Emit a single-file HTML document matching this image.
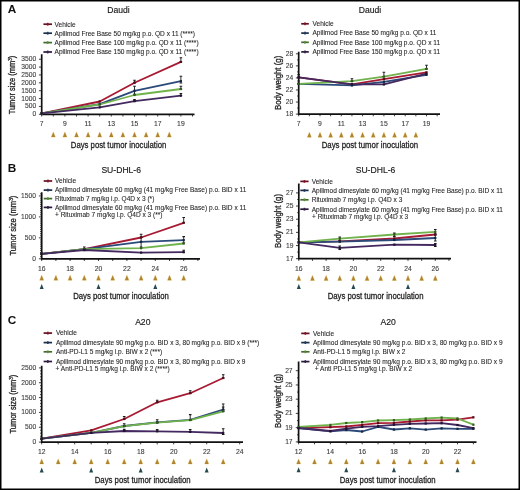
<!DOCTYPE html>
<html><head><meta charset="utf-8"><style>
html,body{margin:0;padding:0;background:#fff;}
svg{display:block;font-family:"Liberation Sans", sans-serif;will-change:transform;}
</style></head><body>
<svg width="520" height="490" viewBox="0 0 520 490">
<rect x="0" y="0" width="520" height="490" fill="#fff"/>
<text x="7.8" y="12.6" font-size="11.8" font-weight="bold" fill="#111">A</text>
<text x="7.8" y="172.1" font-size="11.8" font-weight="bold" fill="#111">B</text>
<text x="7.8" y="324.2" font-size="11.8" font-weight="bold" fill="#111">C</text>
<path d="M41.7 54.2V114.3H194.5" fill="none" stroke="#111" stroke-width="1.7"/>
<text x="36.2" y="116.3" font-size="6.7" text-anchor="end" fill="#3a3a3a" stroke="#3a3a3a" stroke-width="0.1">0</text>
<text x="36.2" y="108.43" font-size="6.7" text-anchor="end" fill="#3a3a3a" stroke="#3a3a3a" stroke-width="0.1">500</text>
<text x="36.2" y="100.56" font-size="6.7" text-anchor="end" fill="#3a3a3a" stroke="#3a3a3a" stroke-width="0.1">1000</text>
<text x="36.2" y="92.69" font-size="6.7" text-anchor="end" fill="#3a3a3a" stroke="#3a3a3a" stroke-width="0.1">1500</text>
<text x="36.2" y="84.82" font-size="6.7" text-anchor="end" fill="#3a3a3a" stroke="#3a3a3a" stroke-width="0.1">2000</text>
<text x="36.2" y="76.95" font-size="6.7" text-anchor="end" fill="#3a3a3a" stroke="#3a3a3a" stroke-width="0.1">2500</text>
<text x="36.2" y="69.08" font-size="6.7" text-anchor="end" fill="#3a3a3a" stroke="#3a3a3a" stroke-width="0.1">3000</text>
<text x="36.2" y="61.21" font-size="6.7" text-anchor="end" fill="#3a3a3a" stroke="#3a3a3a" stroke-width="0.1">3500</text>
<path d="M41.7 114.3h-2.8M41.7 106.43h-2.8M41.7 98.56h-2.8M41.7 90.69h-2.8M41.7 82.82h-2.8M41.7 74.95h-2.8M41.7 67.08h-2.8M41.7 59.21h-2.8M41.7 114.3v2.2M53.3 114.3v2.2M64.9 114.3v2.2M76.5 114.3v2.2M88.1 114.3v2.2M99.7 114.3v2.2M111.3 114.3v2.2M122.9 114.3v2.2M134.5 114.3v2.2M146.1 114.3v2.2M157.7 114.3v2.2M169.3 114.3v2.2M180.9 114.3v2.2M192.5 114.3v2.2" stroke="#111" stroke-width="0.8" fill="none"/>
<text x="41.7" y="126.1" font-size="6.8" text-anchor="middle" fill="#3a3a3a" stroke="#3a3a3a" stroke-width="0.1">7</text>
<text x="64.9" y="126.1" font-size="6.8" text-anchor="middle" fill="#3a3a3a" stroke="#3a3a3a" stroke-width="0.1">9</text>
<text x="88.1" y="126.1" font-size="6.8" text-anchor="middle" fill="#3a3a3a" stroke="#3a3a3a" stroke-width="0.1">11</text>
<text x="111.3" y="126.1" font-size="6.8" text-anchor="middle" fill="#3a3a3a" stroke="#3a3a3a" stroke-width="0.1">13</text>
<text x="134.5" y="126.1" font-size="6.8" text-anchor="middle" fill="#3a3a3a" stroke="#3a3a3a" stroke-width="0.1">15</text>
<text x="157.7" y="126.1" font-size="6.8" text-anchor="middle" fill="#3a3a3a" stroke="#3a3a3a" stroke-width="0.1">17</text>
<text x="180.9" y="126.1" font-size="6.8" text-anchor="middle" fill="#3a3a3a" stroke="#3a3a3a" stroke-width="0.1">19</text>
<polyline points="41.7,113.3 99.7,101.5 134.5,82.7 180.9,61.9" fill="none" stroke="#A81A32" stroke-width="1.8" stroke-linejoin="round"/>
<polyline points="41.7,113.3 99.7,104.2 134.5,90.8 180.9,81.2" fill="none" stroke="#2B4A7A" stroke-width="1.8" stroke-linejoin="round"/>
<polyline points="41.7,113.3 99.7,104.5 134.5,95 180.9,89" fill="none" stroke="#70B24C" stroke-width="1.8" stroke-linejoin="round"/>
<polyline points="41.7,113.3 99.7,107.3 134.5,101.2 180.9,95.6" fill="none" stroke="#43295F" stroke-width="1.8" stroke-linejoin="round"/>
<path d="M134.5 80.3V82.7M180.9 57.8V61.9M134.5 86.3V94.2M180.9 76.3V83M180.9 86.3V89M134.5 99.6V101.2M180.9 93.5V95.6" stroke="#1a1a1a" stroke-width="0.9" fill="none"/>
<path d="M133.2 80.3h2.6M133.2 82.7h2.6M179.6 57.8h2.6M179.6 61.9h2.6M133.2 86.3h2.6M133.2 94.2h2.6M179.6 76.3h2.6M179.6 83h2.6M179.6 86.3h2.6M179.6 89h2.6M133.2 99.6h2.6M133.2 101.2h2.6M179.6 93.5h2.6M179.6 95.6h2.6" stroke="#1a1a1a" stroke-width="1.1" fill="none"/>
<rect x="40.6" y="112.2" width="2.2" height="2.2" fill="#540d19"/>
<rect x="98.6" y="100.4" width="2.2" height="2.2" fill="#540d19"/>
<rect x="133.4" y="81.6" width="2.2" height="2.2" fill="#540d19"/>
<rect x="179.8" y="60.8" width="2.2" height="2.2" fill="#540d19"/>
<rect x="40.6" y="112.2" width="2.2" height="2.2" fill="#15253d"/>
<rect x="98.6" y="103.1" width="2.2" height="2.2" fill="#15253d"/>
<rect x="133.4" y="89.7" width="2.2" height="2.2" fill="#15253d"/>
<rect x="179.8" y="80.1" width="2.2" height="2.2" fill="#15253d"/>
<rect x="40.6" y="112.2" width="2.2" height="2.2" fill="#385926"/>
<rect x="98.6" y="103.4" width="2.2" height="2.2" fill="#385926"/>
<rect x="133.4" y="93.9" width="2.2" height="2.2" fill="#385926"/>
<rect x="179.8" y="87.9" width="2.2" height="2.2" fill="#385926"/>
<rect x="40.6" y="112.2" width="2.2" height="2.2" fill="#21142f"/>
<rect x="98.6" y="106.2" width="2.2" height="2.2" fill="#21142f"/>
<rect x="133.4" y="100.1" width="2.2" height="2.2" fill="#21142f"/>
<rect x="179.8" y="94.5" width="2.2" height="2.2" fill="#21142f"/>
<path d="M43.4 24.2H52" stroke="#640f1e" stroke-width="1.7"/>
<rect x="46.9" y="22.8" width="1.6" height="2.8" fill="#861428"/>
<text x="54.6" y="26.5" font-size="6.56" fill="#262626" stroke="#262626" stroke-width="0.08">Vehicle</text>
<path d="M43.4 33.2H52" stroke="#192c49" stroke-width="1.7"/>
<rect x="46.9" y="31.8" width="1.6" height="2.8" fill="#223b61"/>
<text x="54.6" y="35.5" font-size="6.56" fill="#262626" stroke="#262626" stroke-width="0.08">Apilimod Free Base 50 mg/kg p.o. QD x 11 (****)</text>
<path d="M43.4 42.6H52" stroke="#436a2d" stroke-width="1.7"/>
<rect x="46.9" y="41.2" width="1.6" height="2.8" fill="#598e3c"/>
<text x="54.6" y="44.9" font-size="6.56" fill="#262626" stroke="#262626" stroke-width="0.08">Apilimod Free Base 100 mg/kg p.o. QD x 11 (****)</text>
<path d="M43.4 52H52" stroke="#281839" stroke-width="1.7"/>
<rect x="46.9" y="50.6" width="1.6" height="2.8" fill="#35204c"/>
<text x="54.6" y="54.3" font-size="6.56" fill="#262626" stroke="#262626" stroke-width="0.08">Apilimod Free Base 150 mg/kg p.o. QD x 11 (****)</text>
<text x="118.5" y="13.1" font-size="8.6" text-anchor="middle" fill="#1a1a1a" stroke="#1a1a1a" stroke-width="0.15">Daudi</text>
<g transform="translate(15.4 85) rotate(-90)">
<text x="0" y="0" font-size="8.9" text-anchor="middle" textLength="58.6" lengthAdjust="spacingAndGlyphs" fill="#222" stroke="#222" stroke-width="0.3">Tumor size (mm<tspan font-size="5.5" dy="-3">3</tspan><tspan dy="3">)</tspan></text>
</g>
<text x="70.8" y="147.6" font-size="9.2" textLength="95.5" lengthAdjust="spacingAndGlyphs" fill="#222" stroke="#222" stroke-width="0.28">Days post tumor inoculation</text>
<path d="M51.3 137.1L53.3 132.1L55.3 137.1ZM62.9 137.1L64.9 132.1L66.9 137.1ZM74.5 137.1L76.5 132.1L78.5 137.1ZM86.1 137.1L88.1 132.1L90.1 137.1ZM97.7 137.1L99.7 132.1L101.7 137.1ZM109.3 137.1L111.3 132.1L113.3 137.1ZM120.9 137.1L122.9 132.1L124.9 137.1ZM132.5 137.1L134.5 132.1L136.5 137.1ZM144.1 137.1L146.1 132.1L148.1 137.1ZM155.7 137.1L157.7 132.1L159.7 137.1ZM167.3 137.1L169.3 132.1L171.3 137.1Z" fill="#AE8432" stroke="#F4DD9C" stroke-width="0.9" paint-order="stroke" stroke-linejoin="round"/>
<path d="M298.7 51.7V114.1H440" fill="none" stroke="#111" stroke-width="1.7"/>
<text x="293.2" y="116.1" font-size="6.7" text-anchor="end" fill="#3a3a3a" stroke="#3a3a3a" stroke-width="0.1">18</text>
<text x="293.2" y="104.04" font-size="6.7" text-anchor="end" fill="#3a3a3a" stroke="#3a3a3a" stroke-width="0.1">20</text>
<text x="293.2" y="91.98" font-size="6.7" text-anchor="end" fill="#3a3a3a" stroke="#3a3a3a" stroke-width="0.1">22</text>
<text x="293.2" y="79.92" font-size="6.7" text-anchor="end" fill="#3a3a3a" stroke="#3a3a3a" stroke-width="0.1">24</text>
<text x="293.2" y="67.86" font-size="6.7" text-anchor="end" fill="#3a3a3a" stroke="#3a3a3a" stroke-width="0.1">26</text>
<text x="293.2" y="55.8" font-size="6.7" text-anchor="end" fill="#3a3a3a" stroke="#3a3a3a" stroke-width="0.1">28</text>
<path d="M298.7 114.1h-2.8M298.7 102.04h-2.8M298.7 89.98h-2.8M298.7 77.92h-2.8M298.7 65.86h-2.8M298.7 53.8h-2.8M298.7 108.07h-1.6M298.7 96.01h-1.6M298.7 83.95h-1.6M298.7 71.89h-1.6M298.7 59.83h-1.6M298.7 114.1v2.2M309.35 114.1v2.2M320 114.1v2.2M330.65 114.1v2.2M341.3 114.1v2.2M351.95 114.1v2.2M362.6 114.1v2.2M373.25 114.1v2.2M383.9 114.1v2.2M394.55 114.1v2.2M405.2 114.1v2.2M415.85 114.1v2.2M426.5 114.1v2.2M437.15 114.1v2.2" stroke="#111" stroke-width="0.8" fill="none"/>
<text x="298.7" y="126.1" font-size="6.8" text-anchor="middle" fill="#3a3a3a" stroke="#3a3a3a" stroke-width="0.1">7</text>
<text x="320" y="126.1" font-size="6.8" text-anchor="middle" fill="#3a3a3a" stroke="#3a3a3a" stroke-width="0.1">9</text>
<text x="341.3" y="126.1" font-size="6.8" text-anchor="middle" fill="#3a3a3a" stroke="#3a3a3a" stroke-width="0.1">11</text>
<text x="362.6" y="126.1" font-size="6.8" text-anchor="middle" fill="#3a3a3a" stroke="#3a3a3a" stroke-width="0.1">13</text>
<text x="383.9" y="126.1" font-size="6.8" text-anchor="middle" fill="#3a3a3a" stroke="#3a3a3a" stroke-width="0.1">15</text>
<text x="405.2" y="126.1" font-size="6.8" text-anchor="middle" fill="#3a3a3a" stroke="#3a3a3a" stroke-width="0.1">17</text>
<text x="426.5" y="126.1" font-size="6.8" text-anchor="middle" fill="#3a3a3a" stroke="#3a3a3a" stroke-width="0.1">19</text>
<polyline points="298.7,77.4 351.95,84.3 383.9,79.2 426.5,72.3" fill="none" stroke="#A81A32" stroke-width="1.8" stroke-linejoin="round"/>
<polyline points="298.7,83.8 351.95,85.4 383.9,81.8 426.5,74.9" fill="none" stroke="#2B4A7A" stroke-width="1.8" stroke-linejoin="round"/>
<polyline points="298.7,83.8 351.95,81.2 383.9,76.6 426.5,68.9" fill="none" stroke="#70B24C" stroke-width="1.8" stroke-linejoin="round"/>
<polyline points="298.7,77.4 351.95,84.3 383.9,84.4 426.5,73.7" fill="none" stroke="#43295F" stroke-width="1.8" stroke-linejoin="round"/>
<path d="M351.95 78.7V81.2M383.9 72.3V76.6M426.5 65.2V68.9M298.7 81V83.8M298.7 74.6V77.4" stroke="#1a1a1a" stroke-width="0.9" fill="none"/>
<path d="M350.65 78.7h2.6M350.65 81.2h2.6M382.6 72.3h2.6M382.6 76.6h2.6M425.2 65.2h2.6M425.2 68.9h2.6M297.4 81h2.6M297.4 83.8h2.6M297.4 74.6h2.6M297.4 77.4h2.6" stroke="#1a1a1a" stroke-width="1.1" fill="none"/>
<rect x="297.6" y="76.3" width="2.2" height="2.2" fill="#540d19"/>
<rect x="350.85" y="83.2" width="2.2" height="2.2" fill="#540d19"/>
<rect x="382.8" y="78.1" width="2.2" height="2.2" fill="#540d19"/>
<rect x="425.4" y="71.2" width="2.2" height="2.2" fill="#540d19"/>
<rect x="297.6" y="82.7" width="2.2" height="2.2" fill="#15253d"/>
<rect x="350.85" y="84.3" width="2.2" height="2.2" fill="#15253d"/>
<rect x="382.8" y="80.7" width="2.2" height="2.2" fill="#15253d"/>
<rect x="425.4" y="73.8" width="2.2" height="2.2" fill="#15253d"/>
<rect x="297.6" y="82.7" width="2.2" height="2.2" fill="#385926"/>
<rect x="350.85" y="80.1" width="2.2" height="2.2" fill="#385926"/>
<rect x="382.8" y="75.5" width="2.2" height="2.2" fill="#385926"/>
<rect x="425.4" y="67.8" width="2.2" height="2.2" fill="#385926"/>
<rect x="297.6" y="76.3" width="2.2" height="2.2" fill="#21142f"/>
<rect x="350.85" y="83.2" width="2.2" height="2.2" fill="#21142f"/>
<rect x="382.8" y="83.3" width="2.2" height="2.2" fill="#21142f"/>
<rect x="425.4" y="72.6" width="2.2" height="2.2" fill="#21142f"/>
<path d="M301.2 23.8H308.8" stroke="#640f1e" stroke-width="1.7"/>
<rect x="304.2" y="22.4" width="1.6" height="2.8" fill="#861428"/>
<text x="312.5" y="26.1" font-size="6.56" fill="#262626" stroke="#262626" stroke-width="0.08">Vehicle</text>
<path d="M301.2 33.1H308.8" stroke="#192c49" stroke-width="1.7"/>
<rect x="304.2" y="31.7" width="1.6" height="2.8" fill="#223b61"/>
<text x="312.5" y="35.4" font-size="6.56" fill="#262626" stroke="#262626" stroke-width="0.08">Apilimod Free Base 50 mg/kg p.o. QD x 11</text>
<path d="M301.2 42.3H308.8" stroke="#436a2d" stroke-width="1.7"/>
<rect x="304.2" y="40.9" width="1.6" height="2.8" fill="#598e3c"/>
<text x="312.5" y="44.6" font-size="6.56" fill="#262626" stroke="#262626" stroke-width="0.08">Apilimod Free Base 100 mg/kg p.o. QD x 11</text>
<path d="M301.2 51.9H308.8" stroke="#281839" stroke-width="1.7"/>
<rect x="304.2" y="50.5" width="1.6" height="2.8" fill="#35204c"/>
<text x="312.5" y="54.2" font-size="6.56" fill="#262626" stroke="#262626" stroke-width="0.08">Apilimod Free Base 150 mg/kg p.o. QD x 11</text>
<text x="370" y="13.1" font-size="8.6" text-anchor="middle" fill="#1a1a1a" stroke="#1a1a1a" stroke-width="0.15">Daudi</text>
<g transform="translate(280.7 82.9) rotate(-90)">
<text x="0" y="0" font-size="8.9" text-anchor="middle" textLength="54.3" lengthAdjust="spacingAndGlyphs" fill="#222" stroke="#222" stroke-width="0.3">Body weight (g)</text>
</g>
<text x="321.7" y="147.7" font-size="9.2" textLength="96.4" lengthAdjust="spacingAndGlyphs" fill="#222" stroke="#222" stroke-width="0.28">Days post tumor inoculation</text>
<path d="M307.35 137.3L309.35 132.3L311.35 137.3ZM318 137.3L320 132.3L322 137.3ZM328.65 137.3L330.65 132.3L332.65 137.3ZM339.3 137.3L341.3 132.3L343.3 137.3ZM349.95 137.3L351.95 132.3L353.95 137.3ZM360.6 137.3L362.6 132.3L364.6 137.3ZM371.25 137.3L373.25 132.3L375.25 137.3ZM381.9 137.3L383.9 132.3L385.9 137.3ZM392.55 137.3L394.55 132.3L396.55 137.3ZM403.2 137.3L405.2 132.3L407.2 137.3ZM413.85 137.3L415.85 132.3L417.85 137.3Z" fill="#AE8432" stroke="#F4DD9C" stroke-width="0.9" paint-order="stroke" stroke-linejoin="round"/>
<path d="M41.7 192.3V258.8H200" fill="none" stroke="#111" stroke-width="1.7"/>
<text x="35.9" y="260.8" font-size="6.7" text-anchor="end" fill="#3a3a3a" stroke="#3a3a3a" stroke-width="0.1">0</text>
<text x="35.9" y="239.85" font-size="6.7" text-anchor="end" fill="#3a3a3a" stroke="#3a3a3a" stroke-width="0.1">500</text>
<text x="35.9" y="218.9" font-size="6.7" text-anchor="end" fill="#3a3a3a" stroke="#3a3a3a" stroke-width="0.1">1000</text>
<text x="35.9" y="197.95" font-size="6.7" text-anchor="end" fill="#3a3a3a" stroke="#3a3a3a" stroke-width="0.1">1500</text>
<path d="M41.7 258.8h-2.8M41.7 237.85h-2.8M41.7 216.9h-2.8M41.7 195.95h-2.8M41.7 256.7h-1.6M41.7 254.61h-1.6M41.7 252.52h-1.6M41.7 250.42h-1.6M41.7 248.33h-1.6M41.7 246.23h-1.6M41.7 244.14h-1.6M41.7 242.04h-1.6M41.7 239.95h-1.6M41.7 235.75h-1.6M41.7 233.66h-1.6M41.7 231.56h-1.6M41.7 229.47h-1.6M41.7 227.38h-1.6M41.7 225.28h-1.6M41.7 223.19h-1.6M41.7 221.09h-1.6M41.7 219h-1.6M41.7 214.81h-1.6M41.7 212.71h-1.6M41.7 210.62h-1.6M41.7 208.52h-1.6M41.7 206.43h-1.6M41.7 204.33h-1.6M41.7 202.24h-1.6M41.7 200.14h-1.6M41.7 198.05h-1.6M41.7 193.86h-1.6M41.7 258.8v2.2M55.9 258.8v2.2M70.1 258.8v2.2M84.3 258.8v2.2M98.5 258.8v2.2M112.7 258.8v2.2M126.9 258.8v2.2M141.1 258.8v2.2M155.3 258.8v2.2M169.5 258.8v2.2M183.7 258.8v2.2M197.9 258.8v2.2" stroke="#111" stroke-width="0.8" fill="none"/>
<text x="41.7" y="271" font-size="6.8" text-anchor="middle" fill="#3a3a3a" stroke="#3a3a3a" stroke-width="0.1">16</text>
<text x="70.1" y="271" font-size="6.8" text-anchor="middle" fill="#3a3a3a" stroke="#3a3a3a" stroke-width="0.1">18</text>
<text x="98.5" y="271" font-size="6.8" text-anchor="middle" fill="#3a3a3a" stroke="#3a3a3a" stroke-width="0.1">20</text>
<text x="126.9" y="271" font-size="6.8" text-anchor="middle" fill="#3a3a3a" stroke="#3a3a3a" stroke-width="0.1">22</text>
<text x="155.3" y="271" font-size="6.8" text-anchor="middle" fill="#3a3a3a" stroke="#3a3a3a" stroke-width="0.1">24</text>
<text x="183.7" y="271" font-size="6.8" text-anchor="middle" fill="#3a3a3a" stroke="#3a3a3a" stroke-width="0.1">26</text>
<polyline points="41.7,253.8 84.3,249.2 141.1,237.5 183.7,222.8" fill="none" stroke="#A81A32" stroke-width="1.8" stroke-linejoin="round"/>
<polyline points="41.7,253.8 84.3,249.2 141.1,241.8 183.7,240.1" fill="none" stroke="#2B4A7A" stroke-width="1.8" stroke-linejoin="round"/>
<polyline points="41.7,253.8 84.3,249.2 141.1,248.2 183.7,243.5" fill="none" stroke="#70B24C" stroke-width="1.8" stroke-linejoin="round"/>
<polyline points="41.7,253.8 84.3,250 141.1,252.6 183.7,252.2" fill="none" stroke="#43295F" stroke-width="1.8" stroke-linejoin="round"/>
<path d="M141.1 234.2V237.5M183.7 217.5V222.8M141.1 237V247M183.7 236.6V243M84.3 247V250M183.7 250.3V252.2" stroke="#1a1a1a" stroke-width="0.9" fill="none"/>
<path d="M139.8 234.2h2.6M139.8 237.5h2.6M182.4 217.5h2.6M182.4 222.8h2.6M139.8 237h2.6M139.8 247h2.6M182.4 236.6h2.6M182.4 243h2.6M83 247h2.6M83 250h2.6M182.4 250.3h2.6M182.4 252.2h2.6" stroke="#1a1a1a" stroke-width="1.1" fill="none"/>
<rect x="40.6" y="252.7" width="2.2" height="2.2" fill="#540d19"/>
<rect x="83.2" y="248.1" width="2.2" height="2.2" fill="#540d19"/>
<rect x="140" y="236.4" width="2.2" height="2.2" fill="#540d19"/>
<rect x="182.6" y="221.7" width="2.2" height="2.2" fill="#540d19"/>
<rect x="40.6" y="252.7" width="2.2" height="2.2" fill="#15253d"/>
<rect x="83.2" y="248.1" width="2.2" height="2.2" fill="#15253d"/>
<rect x="140" y="240.7" width="2.2" height="2.2" fill="#15253d"/>
<rect x="182.6" y="239" width="2.2" height="2.2" fill="#15253d"/>
<rect x="40.6" y="252.7" width="2.2" height="2.2" fill="#385926"/>
<rect x="83.2" y="248.1" width="2.2" height="2.2" fill="#385926"/>
<rect x="140" y="247.1" width="2.2" height="2.2" fill="#385926"/>
<rect x="182.6" y="242.4" width="2.2" height="2.2" fill="#385926"/>
<rect x="40.6" y="252.7" width="2.2" height="2.2" fill="#21142f"/>
<rect x="83.2" y="248.9" width="2.2" height="2.2" fill="#21142f"/>
<rect x="140" y="251.5" width="2.2" height="2.2" fill="#21142f"/>
<rect x="182.6" y="251.1" width="2.2" height="2.2" fill="#21142f"/>
<path d="M43.7 181H52.2" stroke="#640f1e" stroke-width="1.7"/>
<rect x="47.15" y="179.6" width="1.6" height="2.8" fill="#861428"/>
<text x="55" y="183.3" font-size="6.56" fill="#262626" stroke="#262626" stroke-width="0.08">Vehicle</text>
<path d="M43.7 190.1H52.2" stroke="#192c49" stroke-width="1.7"/>
<rect x="47.15" y="188.7" width="1.6" height="2.8" fill="#223b61"/>
<text x="55" y="192.4" font-size="6.56" fill="#262626" stroke="#262626" stroke-width="0.08">Apilimod dimesylate 60 mg/kg (41 mg/kg Free Base) p.o. BID x 11</text>
<path d="M43.7 198.6H52.2" stroke="#436a2d" stroke-width="1.7"/>
<rect x="47.15" y="197.2" width="1.6" height="2.8" fill="#598e3c"/>
<text x="55" y="200.9" font-size="6.56" fill="#262626" stroke="#262626" stroke-width="0.08">Rituximab 7 mg/kg i.p. Q4D x 3 (*)</text>
<path d="M43.7 207.4H52.2" stroke="#281839" stroke-width="1.7"/>
<rect x="47.15" y="206" width="1.6" height="2.8" fill="#35204c"/>
<text x="55" y="209.7" font-size="6.56" fill="#262626" stroke="#262626" stroke-width="0.08">Apilimod dimesylate 60 mg/kg (41 mg/kg Free Base) p.o. BID x 11</text>
<text x="55" y="217.2" font-size="6.56" fill="#262626" stroke="#262626" stroke-width="0.08">+ Rituximab 7 mg/kg i.p. Q4D x 3 (**)</text>
<text x="121.2" y="173" font-size="8.6" text-anchor="middle" fill="#1a1a1a" stroke="#1a1a1a" stroke-width="0.15">SU-DHL-6</text>
<g transform="translate(16 225.6) rotate(-90)">
<text x="0" y="0" font-size="8.9" text-anchor="middle" textLength="60" lengthAdjust="spacingAndGlyphs" fill="#222" stroke="#222" stroke-width="0.3">Tumor size (mm<tspan font-size="5.5" dy="-3">3</tspan><tspan dy="3">)</tspan></text>
</g>
<text x="73.2" y="299.3" font-size="9.2" textLength="95.7" lengthAdjust="spacingAndGlyphs" fill="#222" stroke="#222" stroke-width="0.28">Days post tumor inoculation</text>
<path d="M39.7 280.2L41.7 275.2L43.7 280.2ZM53.9 280.2L55.9 275.2L57.9 280.2ZM68.1 280.2L70.1 275.2L72.1 280.2ZM82.3 280.2L84.3 275.2L86.3 280.2ZM96.5 280.2L98.5 275.2L100.5 280.2ZM110.7 280.2L112.7 275.2L114.7 280.2ZM124.9 280.2L126.9 275.2L128.9 280.2ZM139.1 280.2L141.1 275.2L143.1 280.2ZM153.3 280.2L155.3 275.2L157.3 280.2ZM167.5 280.2L169.5 275.2L171.5 280.2ZM181.7 280.2L183.7 275.2L185.7 280.2Z" fill="#AE8432" stroke="#F4DD9C" stroke-width="0.9" paint-order="stroke" stroke-linejoin="round"/>
<path d="M39.7 288.9L41.7 283.9L43.7 288.9ZM96.5 288.9L98.5 283.9L100.5 288.9ZM153.3 288.9L155.3 283.9L157.3 288.9Z" fill="#244A50"/>
<path d="M298.8 183.6V258.7H451" fill="none" stroke="#111" stroke-width="1.7"/>
<text x="293.5" y="260.7" font-size="6.7" text-anchor="end" fill="#3a3a3a" stroke="#3a3a3a" stroke-width="0.1">17</text>
<text x="293.5" y="247.54" font-size="6.7" text-anchor="end" fill="#3a3a3a" stroke="#3a3a3a" stroke-width="0.1">19</text>
<text x="293.5" y="234.38" font-size="6.7" text-anchor="end" fill="#3a3a3a" stroke="#3a3a3a" stroke-width="0.1">21</text>
<text x="293.5" y="221.22" font-size="6.7" text-anchor="end" fill="#3a3a3a" stroke="#3a3a3a" stroke-width="0.1">23</text>
<text x="293.5" y="208.06" font-size="6.7" text-anchor="end" fill="#3a3a3a" stroke="#3a3a3a" stroke-width="0.1">25</text>
<text x="293.5" y="194.9" font-size="6.7" text-anchor="end" fill="#3a3a3a" stroke="#3a3a3a" stroke-width="0.1">27</text>
<path d="M298.8 258.7h-2.8M298.8 245.54h-2.8M298.8 232.38h-2.8M298.8 219.22h-2.8M298.8 206.06h-2.8M298.8 192.9h-2.8M298.8 252.12h-1.6M298.8 238.96h-1.6M298.8 225.8h-1.6M298.8 212.64h-1.6M298.8 199.48h-1.6M298.8 258.7v2.2M312.45 258.7v2.2M326.1 258.7v2.2M339.75 258.7v2.2M353.4 258.7v2.2M367.05 258.7v2.2M380.7 258.7v2.2M394.35 258.7v2.2M408 258.7v2.2M421.65 258.7v2.2M435.3 258.7v2.2M448.95 258.7v2.2" stroke="#111" stroke-width="0.8" fill="none"/>
<text x="298.8" y="270.8" font-size="6.8" text-anchor="middle" fill="#3a3a3a" stroke="#3a3a3a" stroke-width="0.1">16</text>
<text x="326.1" y="270.8" font-size="6.8" text-anchor="middle" fill="#3a3a3a" stroke="#3a3a3a" stroke-width="0.1">18</text>
<text x="353.4" y="270.8" font-size="6.8" text-anchor="middle" fill="#3a3a3a" stroke="#3a3a3a" stroke-width="0.1">20</text>
<text x="380.7" y="270.8" font-size="6.8" text-anchor="middle" fill="#3a3a3a" stroke="#3a3a3a" stroke-width="0.1">22</text>
<text x="408" y="270.8" font-size="6.8" text-anchor="middle" fill="#3a3a3a" stroke="#3a3a3a" stroke-width="0.1">24</text>
<text x="435.3" y="270.8" font-size="6.8" text-anchor="middle" fill="#3a3a3a" stroke="#3a3a3a" stroke-width="0.1">26</text>
<polyline points="298.8,242.3 339.75,241.3 394.35,238.5 435.3,234.5" fill="none" stroke="#A81A32" stroke-width="1.8" stroke-linejoin="round"/>
<polyline points="298.8,242.3 339.75,241.6 394.35,240 435.3,238" fill="none" stroke="#2B4A7A" stroke-width="1.8" stroke-linejoin="round"/>
<polyline points="298.8,242.3 339.75,238.7 394.35,234.5 435.3,231.9" fill="none" stroke="#70B24C" stroke-width="1.8" stroke-linejoin="round"/>
<polyline points="298.8,242.3 339.75,247.8 394.35,244.7 435.3,245" fill="none" stroke="#43295F" stroke-width="1.8" stroke-linejoin="round"/>
<path d="M435.3 235V241M339.75 237V240.5M394.35 233V236.5M435.3 229.5V234M339.75 246V249.5M435.3 243.5V246.5" stroke="#1a1a1a" stroke-width="0.9" fill="none"/>
<path d="M434 235h2.6M434 241h2.6M338.45 237h2.6M338.45 240.5h2.6M393.05 233h2.6M393.05 236.5h2.6M434 229.5h2.6M434 234h2.6M338.45 246h2.6M338.45 249.5h2.6M434 243.5h2.6M434 246.5h2.6" stroke="#1a1a1a" stroke-width="1.1" fill="none"/>
<rect x="297.7" y="241.2" width="2.2" height="2.2" fill="#540d19"/>
<rect x="338.65" y="240.2" width="2.2" height="2.2" fill="#540d19"/>
<rect x="393.25" y="237.4" width="2.2" height="2.2" fill="#540d19"/>
<rect x="434.2" y="233.4" width="2.2" height="2.2" fill="#540d19"/>
<rect x="297.7" y="241.2" width="2.2" height="2.2" fill="#15253d"/>
<rect x="338.65" y="240.5" width="2.2" height="2.2" fill="#15253d"/>
<rect x="393.25" y="238.9" width="2.2" height="2.2" fill="#15253d"/>
<rect x="434.2" y="236.9" width="2.2" height="2.2" fill="#15253d"/>
<rect x="297.7" y="241.2" width="2.2" height="2.2" fill="#385926"/>
<rect x="338.65" y="237.6" width="2.2" height="2.2" fill="#385926"/>
<rect x="393.25" y="233.4" width="2.2" height="2.2" fill="#385926"/>
<rect x="434.2" y="230.8" width="2.2" height="2.2" fill="#385926"/>
<rect x="297.7" y="241.2" width="2.2" height="2.2" fill="#21142f"/>
<rect x="338.65" y="246.7" width="2.2" height="2.2" fill="#21142f"/>
<rect x="393.25" y="243.6" width="2.2" height="2.2" fill="#21142f"/>
<rect x="434.2" y="243.9" width="2.2" height="2.2" fill="#21142f"/>
<path d="M300.3 181.4H308.6" stroke="#640f1e" stroke-width="1.7"/>
<rect x="303.65" y="180" width="1.6" height="2.8" fill="#861428"/>
<text x="311.7" y="183.7" font-size="6.56" fill="#262626" stroke="#262626" stroke-width="0.08">Vehicle</text>
<path d="M300.3 190.4H308.6" stroke="#192c49" stroke-width="1.7"/>
<rect x="303.65" y="189" width="1.6" height="2.8" fill="#223b61"/>
<text x="311.7" y="192.7" font-size="6.56" fill="#262626" stroke="#262626" stroke-width="0.08">Apilimod dimesylate 60 mg/kg (41 mg/kg Free Base) p.o. BID x 11</text>
<path d="M300.3 199.8H308.6" stroke="#436a2d" stroke-width="1.7"/>
<rect x="303.65" y="198.4" width="1.6" height="2.8" fill="#598e3c"/>
<text x="311.7" y="202.1" font-size="6.56" fill="#262626" stroke="#262626" stroke-width="0.08">Rituximab 7 mg/kg i.p. Q4D x 3</text>
<path d="M300.3 209.2H308.6" stroke="#281839" stroke-width="1.7"/>
<rect x="303.65" y="207.8" width="1.6" height="2.8" fill="#35204c"/>
<text x="311.7" y="211.5" font-size="6.56" fill="#262626" stroke="#262626" stroke-width="0.08">Apilimod dimesylate 60 mg/kg (41 mg/kg Free Base) p.o. BID x 11</text>
<text x="312" y="219" font-size="6.56" fill="#262626" stroke="#262626" stroke-width="0.08">+ Rituximab 7 mg/kg i.p. Q4D x 3</text>
<text x="375.5" y="173" font-size="8.6" text-anchor="middle" fill="#1a1a1a" stroke="#1a1a1a" stroke-width="0.15">SU-DHL-6</text>
<g transform="translate(280.5 221) rotate(-90)">
<text x="0" y="0" font-size="8.9" text-anchor="middle" textLength="54.1" lengthAdjust="spacingAndGlyphs" fill="#222" stroke="#222" stroke-width="0.3">Body weight (g)</text>
</g>
<text x="327.7" y="299.3" font-size="9.2" textLength="95.8" lengthAdjust="spacingAndGlyphs" fill="#222" stroke="#222" stroke-width="0.28">Days post tumor inoculation</text>
<path d="M296.8 280.5L298.8 275.5L300.8 280.5ZM310.45 280.5L312.45 275.5L314.45 280.5ZM324.1 280.5L326.1 275.5L328.1 280.5ZM337.75 280.5L339.75 275.5L341.75 280.5ZM351.4 280.5L353.4 275.5L355.4 280.5ZM365.05 280.5L367.05 275.5L369.05 280.5ZM378.7 280.5L380.7 275.5L382.7 280.5ZM392.35 280.5L394.35 275.5L396.35 280.5ZM406 280.5L408 275.5L410 280.5ZM419.65 280.5L421.65 275.5L423.65 280.5ZM433.3 280.5L435.3 275.5L437.3 280.5Z" fill="#AE8432" stroke="#F4DD9C" stroke-width="0.9" paint-order="stroke" stroke-linejoin="round"/>
<path d="M296.8 289.1L298.8 284.1L300.8 289.1ZM351.4 289.1L353.4 284.1L355.4 289.1ZM406 289.1L408 284.1L410 289.1Z" fill="#244A50"/>
<path d="M41.7 365.7V442.2H243" fill="none" stroke="#111" stroke-width="1.7"/>
<text x="36.2" y="444.1" font-size="6.7" text-anchor="end" fill="#3a3a3a" stroke="#3a3a3a" stroke-width="0.1">0</text>
<text x="36.2" y="429.26" font-size="6.7" text-anchor="end" fill="#3a3a3a" stroke="#3a3a3a" stroke-width="0.1">500</text>
<text x="36.2" y="414.42" font-size="6.7" text-anchor="end" fill="#3a3a3a" stroke="#3a3a3a" stroke-width="0.1">1000</text>
<text x="36.2" y="399.58" font-size="6.7" text-anchor="end" fill="#3a3a3a" stroke="#3a3a3a" stroke-width="0.1">1500</text>
<text x="36.2" y="384.74" font-size="6.7" text-anchor="end" fill="#3a3a3a" stroke="#3a3a3a" stroke-width="0.1">2000</text>
<text x="36.2" y="369.9" font-size="6.7" text-anchor="end" fill="#3a3a3a" stroke="#3a3a3a" stroke-width="0.1">2500</text>
<path d="M41.7 442.1h-2.8M41.7 427.26h-2.8M41.7 412.42h-2.8M41.7 397.58h-2.8M41.7 382.74h-2.8M41.7 367.9h-2.8M41.7 439.13h-1.6M41.7 436.16h-1.6M41.7 433.2h-1.6M41.7 430.23h-1.6M41.7 424.29h-1.6M41.7 421.32h-1.6M41.7 418.36h-1.6M41.7 415.39h-1.6M41.7 409.45h-1.6M41.7 406.48h-1.6M41.7 403.52h-1.6M41.7 400.55h-1.6M41.7 394.61h-1.6M41.7 391.64h-1.6M41.7 388.68h-1.6M41.7 385.71h-1.6M41.7 379.77h-1.6M41.7 376.8h-1.6M41.7 373.84h-1.6M41.7 370.87h-1.6M41.7 442.2v2.2M58.2 442.2v2.2M74.7 442.2v2.2M91.2 442.2v2.2M107.7 442.2v2.2M124.2 442.2v2.2M140.7 442.2v2.2M157.2 442.2v2.2M173.7 442.2v2.2M190.2 442.2v2.2M206.7 442.2v2.2M223.2 442.2v2.2M239.7 442.2v2.2" stroke="#111" stroke-width="0.8" fill="none"/>
<text x="41.7" y="453.8" font-size="6.8" text-anchor="middle" fill="#3a3a3a" stroke="#3a3a3a" stroke-width="0.1">12</text>
<text x="74.7" y="453.8" font-size="6.8" text-anchor="middle" fill="#3a3a3a" stroke="#3a3a3a" stroke-width="0.1">14</text>
<text x="107.7" y="453.8" font-size="6.8" text-anchor="middle" fill="#3a3a3a" stroke="#3a3a3a" stroke-width="0.1">16</text>
<text x="140.7" y="453.8" font-size="6.8" text-anchor="middle" fill="#3a3a3a" stroke="#3a3a3a" stroke-width="0.1">18</text>
<text x="173.7" y="453.8" font-size="6.8" text-anchor="middle" fill="#3a3a3a" stroke="#3a3a3a" stroke-width="0.1">20</text>
<text x="206.7" y="453.8" font-size="6.8" text-anchor="middle" fill="#3a3a3a" stroke="#3a3a3a" stroke-width="0.1">22</text>
<text x="239.7" y="453.8" font-size="6.8" text-anchor="middle" fill="#3a3a3a" stroke="#3a3a3a" stroke-width="0.1">24</text>
<polyline points="41.7,438.7 91.2,430.4 124.2,419 157.2,402.3 190.2,393.2 223.2,378" fill="none" stroke="#A81A32" stroke-width="1.8" stroke-linejoin="round"/>
<polyline points="41.7,438.7 91.2,432.9 124.2,426 157.2,422.4 190.2,419.9 223.2,409.7" fill="none" stroke="#2B4A7A" stroke-width="1.8" stroke-linejoin="round"/>
<polyline points="41.7,438.7 91.2,432.9 124.2,426.2 157.2,422.6 190.2,420.1 223.2,411.3" fill="none" stroke="#70B24C" stroke-width="1.8" stroke-linejoin="round"/>
<polyline points="41.7,438.7 91.2,432.9 124.2,431 157.2,431.3 190.2,431.9 223.2,433" fill="none" stroke="#43295F" stroke-width="1.8" stroke-linejoin="round"/>
<path d="M124.2 416.5V419M157.2 400.2V402.3M190.2 390.7V393.2M223.2 374.8V378M124.2 423.8V426M157.2 419.8V422.4M190.2 414.6V419.9M223.2 404V409.7M223.2 407V411.3M124.2 429.4V431M157.2 429.5V431.3M190.2 429.6V431.9M223.2 428.8V434.5" stroke="#1a1a1a" stroke-width="0.9" fill="none"/>
<path d="M122.9 416.5h2.6M122.9 419h2.6M155.9 400.2h2.6M155.9 402.3h2.6M188.9 390.7h2.6M188.9 393.2h2.6M221.9 374.8h2.6M221.9 378h2.6M122.9 423.8h2.6M122.9 426h2.6M155.9 419.8h2.6M155.9 422.4h2.6M188.9 414.6h2.6M188.9 419.9h2.6M221.9 404h2.6M221.9 409.7h2.6M221.9 407h2.6M221.9 411.3h2.6M122.9 429.4h2.6M122.9 431h2.6M155.9 429.5h2.6M155.9 431.3h2.6M188.9 429.6h2.6M188.9 431.9h2.6M221.9 428.8h2.6M221.9 434.5h2.6" stroke="#1a1a1a" stroke-width="1.1" fill="none"/>
<rect x="40.6" y="437.6" width="2.2" height="2.2" fill="#540d19"/>
<rect x="90.1" y="429.3" width="2.2" height="2.2" fill="#540d19"/>
<rect x="123.1" y="417.9" width="2.2" height="2.2" fill="#540d19"/>
<rect x="156.1" y="401.2" width="2.2" height="2.2" fill="#540d19"/>
<rect x="189.1" y="392.1" width="2.2" height="2.2" fill="#540d19"/>
<rect x="222.1" y="376.9" width="2.2" height="2.2" fill="#540d19"/>
<rect x="40.6" y="437.6" width="2.2" height="2.2" fill="#15253d"/>
<rect x="90.1" y="431.8" width="2.2" height="2.2" fill="#15253d"/>
<rect x="123.1" y="424.9" width="2.2" height="2.2" fill="#15253d"/>
<rect x="156.1" y="421.3" width="2.2" height="2.2" fill="#15253d"/>
<rect x="189.1" y="418.8" width="2.2" height="2.2" fill="#15253d"/>
<rect x="222.1" y="408.6" width="2.2" height="2.2" fill="#15253d"/>
<rect x="40.6" y="437.6" width="2.2" height="2.2" fill="#385926"/>
<rect x="90.1" y="431.8" width="2.2" height="2.2" fill="#385926"/>
<rect x="123.1" y="425.1" width="2.2" height="2.2" fill="#385926"/>
<rect x="156.1" y="421.5" width="2.2" height="2.2" fill="#385926"/>
<rect x="189.1" y="419" width="2.2" height="2.2" fill="#385926"/>
<rect x="222.1" y="410.2" width="2.2" height="2.2" fill="#385926"/>
<rect x="40.6" y="437.6" width="2.2" height="2.2" fill="#21142f"/>
<rect x="90.1" y="431.8" width="2.2" height="2.2" fill="#21142f"/>
<rect x="123.1" y="429.9" width="2.2" height="2.2" fill="#21142f"/>
<rect x="156.1" y="430.2" width="2.2" height="2.2" fill="#21142f"/>
<rect x="189.1" y="430.8" width="2.2" height="2.2" fill="#21142f"/>
<rect x="222.1" y="431.9" width="2.2" height="2.2" fill="#21142f"/>
<path d="M43.6 333.1H52.1" stroke="#640f1e" stroke-width="1.7"/>
<rect x="47.05" y="331.7" width="1.6" height="2.8" fill="#861428"/>
<text x="55.9" y="335.4" font-size="6.56" fill="#262626" stroke="#262626" stroke-width="0.08">Vehicle</text>
<path d="M43.6 342.6H52.1" stroke="#192c49" stroke-width="1.7"/>
<rect x="47.05" y="341.2" width="1.6" height="2.8" fill="#223b61"/>
<text x="55.9" y="344.9" font-size="6.56" fill="#262626" stroke="#262626" stroke-width="0.08">Apilimod dimesylate 90 mg/kg p.o. BID x 3, 80 mg/kg p.o. BID x 9 (***)</text>
<path d="M43.6 351.8H52.1" stroke="#436a2d" stroke-width="1.7"/>
<rect x="47.05" y="350.4" width="1.6" height="2.8" fill="#598e3c"/>
<text x="55.9" y="354.1" font-size="6.56" fill="#262626" stroke="#262626" stroke-width="0.08">Anti-PD-L1 5 mg/kg i.p. BIW x 2 (***)</text>
<path d="M43.6 361.5H52.1" stroke="#281839" stroke-width="1.7"/>
<rect x="47.05" y="360.1" width="1.6" height="2.8" fill="#35204c"/>
<text x="55.9" y="363.8" font-size="6.56" fill="#262626" stroke="#262626" stroke-width="0.08">Apilimod dimesylate 90 mg/kg p.o. BID x 3, 80 mg/kg p.o. BID x 9</text>
<text x="55.6" y="371.4" font-size="6.56" fill="#262626" stroke="#262626" stroke-width="0.08">+ Anti-PD-L1 5 mg/kg i.p. BIW x 2 (****)</text>
<text x="142.8" y="324.6" font-size="8.6" text-anchor="middle" fill="#1a1a1a" stroke="#1a1a1a" stroke-width="0.15">A20</text>
<g transform="translate(15.6 404.1) rotate(-90)">
<text x="0" y="0" font-size="8.9" text-anchor="middle" textLength="58.8" lengthAdjust="spacingAndGlyphs" fill="#222" stroke="#222" stroke-width="0.3">Tumor size (mm<tspan font-size="5.5" dy="-3">3</tspan><tspan dy="3">)</tspan></text>
</g>
<text x="94.7" y="482.8" font-size="9.2" textLength="96" lengthAdjust="spacingAndGlyphs" fill="#222" stroke="#222" stroke-width="0.28">Days post tumor inoculation</text>
<path d="M39.7 463.9L41.7 458.9L43.7 463.9ZM56.2 463.9L58.2 458.9L60.2 463.9ZM72.7 463.9L74.7 458.9L76.7 463.9ZM89.2 463.9L91.2 458.9L93.2 463.9ZM105.7 463.9L107.7 458.9L109.7 463.9ZM122.2 463.9L124.2 458.9L126.2 463.9ZM138.7 463.9L140.7 458.9L142.7 463.9ZM155.2 463.9L157.2 458.9L159.2 463.9ZM171.7 463.9L173.7 458.9L175.7 463.9ZM188.2 463.9L190.2 458.9L192.2 463.9ZM204.7 463.9L206.7 458.9L208.7 463.9ZM221.2 463.9L223.2 458.9L225.2 463.9Z" fill="#AE8432" stroke="#F4DD9C" stroke-width="0.9" paint-order="stroke" stroke-linejoin="round"/>
<path d="M39.7 472.5L41.7 467.5L43.7 472.5ZM89.2 472.5L91.2 467.5L93.2 472.5ZM138.7 472.5L140.7 467.5L142.7 472.5ZM204.7 472.5L206.7 467.5L208.7 472.5Z" fill="#244A50"/>
<path d="M298.6 361.5V442.1H476.5" fill="none" stroke="#111" stroke-width="1.7"/>
<text x="292.6" y="443.9" font-size="6.7" text-anchor="end" fill="#3a3a3a" stroke="#3a3a3a" stroke-width="0.1">17</text>
<text x="292.6" y="429.66" font-size="6.7" text-anchor="end" fill="#3a3a3a" stroke="#3a3a3a" stroke-width="0.1">19</text>
<text x="292.6" y="415.42" font-size="6.7" text-anchor="end" fill="#3a3a3a" stroke="#3a3a3a" stroke-width="0.1">21</text>
<text x="292.6" y="401.18" font-size="6.7" text-anchor="end" fill="#3a3a3a" stroke="#3a3a3a" stroke-width="0.1">23</text>
<text x="292.6" y="386.94" font-size="6.7" text-anchor="end" fill="#3a3a3a" stroke="#3a3a3a" stroke-width="0.1">25</text>
<text x="292.6" y="372.7" font-size="6.7" text-anchor="end" fill="#3a3a3a" stroke="#3a3a3a" stroke-width="0.1">27</text>
<path d="M298.6 441.9h-2.8M298.6 427.66h-2.8M298.6 413.42h-2.8M298.6 399.18h-2.8M298.6 384.94h-2.8M298.6 370.7h-2.8M298.6 434.78h-1.6M298.6 420.54h-1.6M298.6 406.3h-1.6M298.6 392.06h-1.6M298.6 377.82h-1.6M298.6 442.1v2.2M314.49 442.1v2.2M330.38 442.1v2.2M346.27 442.1v2.2M362.16 442.1v2.2M378.05 442.1v2.2M393.94 442.1v2.2M409.83 442.1v2.2M425.72 442.1v2.2M441.61 442.1v2.2M457.5 442.1v2.2M473.39 442.1v2.2" stroke="#111" stroke-width="0.8" fill="none"/>
<text x="298.6" y="454.3" font-size="6.8" text-anchor="middle" fill="#3a3a3a" stroke="#3a3a3a" stroke-width="0.1">12</text>
<text x="330.38" y="454.3" font-size="6.8" text-anchor="middle" fill="#3a3a3a" stroke="#3a3a3a" stroke-width="0.1">14</text>
<text x="362.16" y="454.3" font-size="6.8" text-anchor="middle" fill="#3a3a3a" stroke="#3a3a3a" stroke-width="0.1">16</text>
<text x="393.94" y="454.3" font-size="6.8" text-anchor="middle" fill="#3a3a3a" stroke="#3a3a3a" stroke-width="0.1">18</text>
<text x="425.72" y="454.3" font-size="6.8" text-anchor="middle" fill="#3a3a3a" stroke="#3a3a3a" stroke-width="0.1">20</text>
<text x="457.5" y="454.3" font-size="6.8" text-anchor="middle" fill="#3a3a3a" stroke="#3a3a3a" stroke-width="0.1">22</text>
<polyline points="298.6,428 330.38,427.2 346.27,426.5 362.16,424.8 378.05,423.2 393.94,422.8 409.83,421.5 425.72,420.4 441.61,420.4 457.5,419.6 473.39,417.3" fill="none" stroke="#A81A32" stroke-width="1.8" stroke-linejoin="round"/>
<polyline points="298.6,428 330.38,431.3 346.27,430 362.16,431.5 378.05,426.8 393.94,429.5 409.83,428.3 425.72,429.6 441.61,428.4 457.5,428.8 473.39,428.8" fill="none" stroke="#2B4A7A" stroke-width="1.8" stroke-linejoin="round"/>
<polyline points="298.6,427 330.38,424.9 346.27,423 362.16,422.1 378.05,420.5 393.94,420.1 409.83,419.5 425.72,418.5 441.61,417.6 457.5,418.5 473.39,424.7" fill="none" stroke="#70B24C" stroke-width="1.8" stroke-linejoin="round"/>
<polyline points="298.6,428 330.38,431 346.27,428.6 362.16,426.8 378.05,426.2 393.94,424.8 409.83,423.8 425.72,423.5 441.61,423.2 457.5,425 473.39,428.1" fill="none" stroke="#43295F" stroke-width="1.8" stroke-linejoin="round"/>
<rect x="297.5" y="426.9" width="2.2" height="2.2" fill="#540d19"/>
<rect x="329.28" y="426.1" width="2.2" height="2.2" fill="#540d19"/>
<rect x="345.17" y="425.4" width="2.2" height="2.2" fill="#540d19"/>
<rect x="361.06" y="423.7" width="2.2" height="2.2" fill="#540d19"/>
<rect x="376.95" y="422.1" width="2.2" height="2.2" fill="#540d19"/>
<rect x="392.84" y="421.7" width="2.2" height="2.2" fill="#540d19"/>
<rect x="408.73" y="420.4" width="2.2" height="2.2" fill="#540d19"/>
<rect x="424.62" y="419.3" width="2.2" height="2.2" fill="#540d19"/>
<rect x="440.51" y="419.3" width="2.2" height="2.2" fill="#540d19"/>
<rect x="456.4" y="418.5" width="2.2" height="2.2" fill="#540d19"/>
<rect x="472.29" y="416.2" width="2.2" height="2.2" fill="#540d19"/>
<rect x="297.5" y="426.9" width="2.2" height="2.2" fill="#15253d"/>
<rect x="329.28" y="430.2" width="2.2" height="2.2" fill="#15253d"/>
<rect x="345.17" y="428.9" width="2.2" height="2.2" fill="#15253d"/>
<rect x="361.06" y="430.4" width="2.2" height="2.2" fill="#15253d"/>
<rect x="376.95" y="425.7" width="2.2" height="2.2" fill="#15253d"/>
<rect x="392.84" y="428.4" width="2.2" height="2.2" fill="#15253d"/>
<rect x="408.73" y="427.2" width="2.2" height="2.2" fill="#15253d"/>
<rect x="424.62" y="428.5" width="2.2" height="2.2" fill="#15253d"/>
<rect x="440.51" y="427.3" width="2.2" height="2.2" fill="#15253d"/>
<rect x="456.4" y="427.7" width="2.2" height="2.2" fill="#15253d"/>
<rect x="472.29" y="427.7" width="2.2" height="2.2" fill="#15253d"/>
<rect x="297.5" y="425.9" width="2.2" height="2.2" fill="#385926"/>
<rect x="329.28" y="423.8" width="2.2" height="2.2" fill="#385926"/>
<rect x="345.17" y="421.9" width="2.2" height="2.2" fill="#385926"/>
<rect x="361.06" y="421" width="2.2" height="2.2" fill="#385926"/>
<rect x="376.95" y="419.4" width="2.2" height="2.2" fill="#385926"/>
<rect x="392.84" y="419" width="2.2" height="2.2" fill="#385926"/>
<rect x="408.73" y="418.4" width="2.2" height="2.2" fill="#385926"/>
<rect x="424.62" y="417.4" width="2.2" height="2.2" fill="#385926"/>
<rect x="440.51" y="416.5" width="2.2" height="2.2" fill="#385926"/>
<rect x="456.4" y="417.4" width="2.2" height="2.2" fill="#385926"/>
<rect x="472.29" y="423.6" width="2.2" height="2.2" fill="#385926"/>
<rect x="297.5" y="426.9" width="2.2" height="2.2" fill="#21142f"/>
<rect x="329.28" y="429.9" width="2.2" height="2.2" fill="#21142f"/>
<rect x="345.17" y="427.5" width="2.2" height="2.2" fill="#21142f"/>
<rect x="361.06" y="425.7" width="2.2" height="2.2" fill="#21142f"/>
<rect x="376.95" y="425.1" width="2.2" height="2.2" fill="#21142f"/>
<rect x="392.84" y="423.7" width="2.2" height="2.2" fill="#21142f"/>
<rect x="408.73" y="422.7" width="2.2" height="2.2" fill="#21142f"/>
<rect x="424.62" y="422.4" width="2.2" height="2.2" fill="#21142f"/>
<rect x="440.51" y="422.1" width="2.2" height="2.2" fill="#21142f"/>
<rect x="456.4" y="423.9" width="2.2" height="2.2" fill="#21142f"/>
<rect x="472.29" y="427" width="2.2" height="2.2" fill="#21142f"/>
<path d="M301.2 333.4H309.5" stroke="#640f1e" stroke-width="1.7"/>
<rect x="304.55" y="332" width="1.6" height="2.8" fill="#861428"/>
<text x="313" y="335.7" font-size="6.56" fill="#262626" stroke="#262626" stroke-width="0.08">Vehicle</text>
<path d="M301.2 342.6H309.5" stroke="#192c49" stroke-width="1.7"/>
<rect x="304.55" y="341.2" width="1.6" height="2.8" fill="#223b61"/>
<text x="313" y="344.9" font-size="6.56" fill="#262626" stroke="#262626" stroke-width="0.08">Apilimod dimesylate 90 mg/kg p.o. BID x 3, 80 mg/kg p.o. BID x 9</text>
<path d="M301.2 351.8H309.5" stroke="#436a2d" stroke-width="1.7"/>
<rect x="304.55" y="350.4" width="1.6" height="2.8" fill="#598e3c"/>
<text x="313" y="354.1" font-size="6.56" fill="#262626" stroke="#262626" stroke-width="0.08">Anti-PD-L1 5 mg/kg i.p. BIW x 2</text>
<path d="M301.2 361.6H309.5" stroke="#281839" stroke-width="1.7"/>
<rect x="304.55" y="360.2" width="1.6" height="2.8" fill="#35204c"/>
<text x="313" y="363.9" font-size="6.56" fill="#262626" stroke="#262626" stroke-width="0.08">Apilimod dimesylate 90 mg/kg p.o. BID x 3, 80 mg/kg p.o. BID x 9</text>
<text x="314.8" y="371.2" font-size="6.56" fill="#262626" stroke="#262626" stroke-width="0.08">+ Anti PD-L1 5 mg/kg i.p. BIW x 2</text>
<text x="388.2" y="324.6" font-size="8.6" text-anchor="middle" fill="#1a1a1a" stroke="#1a1a1a" stroke-width="0.15">A20</text>
<g transform="translate(280.6 400.9) rotate(-90)">
<text x="0" y="0" font-size="8.9" text-anchor="middle" textLength="54.2" lengthAdjust="spacingAndGlyphs" fill="#222" stroke="#222" stroke-width="0.3">Body weight (g)</text>
</g>
<text x="339.7" y="482.8" font-size="9.2" textLength="96" lengthAdjust="spacingAndGlyphs" fill="#222" stroke="#222" stroke-width="0.28">Days post tumor inoculation</text>
<path d="M296.6 463.9L298.6 458.9L300.6 463.9ZM312.49 463.9L314.49 458.9L316.49 463.9ZM328.38 463.9L330.38 458.9L332.38 463.9ZM344.27 463.9L346.27 458.9L348.27 463.9ZM360.16 463.9L362.16 458.9L364.16 463.9ZM376.05 463.9L378.05 458.9L380.05 463.9ZM391.94 463.9L393.94 458.9L395.94 463.9ZM407.83 463.9L409.83 458.9L411.83 463.9ZM423.72 463.9L425.72 458.9L427.72 463.9ZM439.61 463.9L441.61 458.9L443.61 463.9ZM455.5 463.9L457.5 458.9L459.5 463.9ZM471.39 463.9L473.39 458.9L475.39 463.9Z" fill="#AE8432" stroke="#F4DD9C" stroke-width="0.9" paint-order="stroke" stroke-linejoin="round"/>
<path d="M296.6 472.3L298.6 467.3L300.6 472.3ZM344.27 472.3L346.27 467.3L348.27 472.3ZM391.94 472.3L393.94 467.3L395.94 472.3ZM455.5 472.3L457.5 467.3L459.5 472.3Z" fill="#244A50"/>
<rect x="0.75" y="0.75" width="518.5" height="488.5" fill="none" stroke="#000" stroke-width="1.5"/>
</svg>
</body></html>
